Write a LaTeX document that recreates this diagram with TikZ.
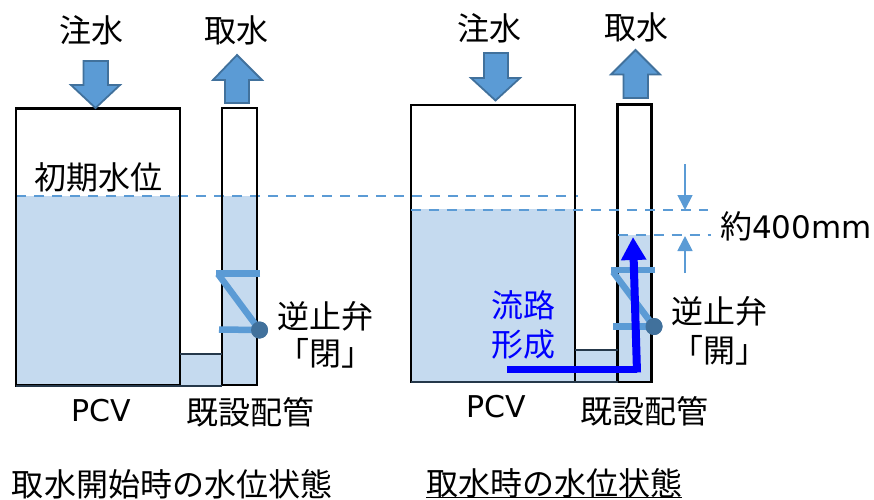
\documentclass[tikz,border=0pt]{standalone}
\usepackage{fontspec}
\setmainfont{DejaVu Sans}
\newfontfamily\jp{Noto Sans CJK JP}
\usetikzlibrary{arrows.meta}
\definecolor{water}{HTML}{C5DAEF}
\definecolor{accent}{HTML}{5B9BD5}
\definecolor{accentdark}{HTML}{41719C}
\definecolor{flow}{HTML}{0000FF}
\definecolor{wetedge}{HTML}{25384A}
\tikzset{
  x=1pt,y=-1pt,
  txt/.style={inner sep=0pt,font=\jp\fontsize{32}{36}\selectfont,text=black},
  lat/.style={inner sep=0pt,font=\fontsize{30}{34}\selectfont,text=black},
  vessel/.style={draw=black,line width=2.3pt,outer sep=0pt,inner sep=0pt,anchor=north west},
  wetline/.style={draw=wetedge,line width=2pt},
  waterfill/.style={fill=water,draw=none},
  level/.style={draw=accent,line width=2.2pt,dash pattern=on 10pt off 8pt},
  blockarrow/.style={fill=accent,draw=accentdark,line width=1.8pt,line join=miter},
  valvebar/.style={draw=accent,line width=6.5pt},
  hinge/.style={circle,fill=accentdark,draw=none,minimum size=17pt,inner sep=0pt},
  dimarrow/.style={draw=accent,line width=1.7pt,-{Triangle[length=15pt,width=15pt]}},
  flowline/.style={draw=flow,line width=7pt},
  flowhead/.style={draw=flow,line width=8pt,-{Triangle[length=23pt,width=24pt]}},
}
\begin{document}
\begin{tikzpicture}
\useasboundingbox (0,0) rectangle (874,499);
% ---------- left: water
\fill[waterfill] (16,196) rectangle (180,385);
\fill[waterfill] (180,353) rectangle (222,386);
\fill[waterfill] (222,196) rectangle (257,385);
\coordinate (l1) at (16,196); \coordinate (l2) at (578,196);
\draw[level] (l1) -- (l2);
% left vessels
\node[vessel,minimum width=164pt,minimum height=277pt] (pcvA) at (16,108.5) {};
\node[vessel,minimum width=35pt,minimum height=277pt] (pipeA) at (222,108) {};
\draw[wetline] (180,353.5) -- (222,353.5);
\draw[wetline] (16,385.5) -- (222,385.5);
% left block arrows
\draw[blockarrow] (83.5,61) -- (108,61) -- (108,85) -- (120,85) -- (95.5,108) -- (71,85) -- (83.5,85) -- cycle;
\draw[blockarrow] (237,55) -- (262,80) -- (249,80) -- (249,103) -- (225,103) -- (225,80) -- (213,80) -- cycle;
% left valve
\node[hinge] (hingeA) at (259.5,330) {};
\coordinate (a1) at (260,273.5); \coordinate (a2) at (216,273.5); \coordinate (a3) at (219,329.5);
\draw[valvebar] (a1) -- (a2);
\draw[valvebar] (218,274) -- (hingeA.center);
\draw[valvebar] (a3) -- (hingeA.center);
\node[hinge] at (hingeA) {};
% ---------- right: water
\fill[waterfill] (411,208.5) rectangle (575,382);
\fill[waterfill] (575,350) rectangle (617.5,382);
\fill[waterfill] (617.5,235) rectangle (651.5,382);
% right vessels
\node[vessel,minimum width=164pt,minimum height=277pt] (pcvB) at (411,105) {};
\node[vessel,minimum width=34pt,minimum height=277.5pt] (pipeB) at (617.5,104.5) {};
\draw[wetline] (575,350) -- (617.5,350);
\draw[wetline] (411,382) -- (617.5,382);
\coordinate (l3) at (411,210); \coordinate (l4) at (708,210);
\coordinate (l5) at (617.5,235); \coordinate (l6) at (711,235);
\draw[level] (l3) -- (l4);
\draw[level] (l5) -- (l6);
% right block arrows
\draw[blockarrow] (484,53) -- (508,53) -- (508,78) -- (520,78) -- (495.5,100.5) -- (471,78) -- (484,78) -- cycle;
\draw[blockarrow] (635.5,50) -- (660,74.5) -- (648,74.5) -- (648,98) -- (623.5,98) -- (623.5,74.5) -- (611,74.5) -- cycle;
% dimension arrows
\coordinate (d1) at (685,164); \coordinate (d2) at (685,210);
\coordinate (d3) at (685,273); \coordinate (d4) at (685,236);
\draw[dimarrow] (d1) -- (d2);
\draw[dimarrow] (d3) -- (d4);
% right valve
\node[hinge] (hingeB) at (654,326.5) {};
\coordinate (b1) at (655,270); \coordinate (b2) at (611,270); \coordinate (b3) at (613,326.5);
\draw[valvebar] (b1) -- (b2);
\draw[valvebar] (613,272) -- (hingeB.center);
\draw[valvebar] (b3) -- (hingeB.center);
\node[hinge] at (hingeB) {};
% flow path
\coordinate (f1) at (507,369); \coordinate (f2) at (636.5,369); \coordinate (f3) at (633,237);
\draw[flowline] (f1) -- (f2);
\draw[flowhead] (637,372.5) -- (f3);
% ---------- labels
\node[txt] (t1) at (91,30) {注水};
\node[txt] (t2) at (236,30) {取水};
\node[txt] (t3) at (98,177) {初期水位};
\node[txt] (t4) at (325,316) {逆止弁};
\node[txt] (t5) at (325,353) {「閉」};
\node[lat] (t6) at (101,411) {PCV};
\node[txt] (t7) at (250,412) {既設配管};
\node[txt] (t8) at (172,484) {取水開始時の水位状態};
\node[txt] (t9) at (489,28) {注水};
\node[txt] (t10) at (636,27) {取水};
\node[lat,anchor=west,font=\fontsize{31}{34}\selectfont] (t11) at (720,226) {{\jp\fontsize{32}{36}\selectfont 約}400mm};
\node[txt] (t12) at (719,311) {逆止弁};
\node[txt] (t13) at (719,350) {「開」};
\node[txt,text=flow] (t14) at (523,305) {流路};
\node[txt,text=flow] (t15) at (523,344) {形成};
\node[lat] (t16) at (496,407) {PCV};
\node[txt] (t17) at (644,411) {既設配管};
\node[txt] (t18) at (554,483) {取水時の水位状態};
\coordinate (u1) at (426,497.5); \coordinate (u2) at (682,497.5);
\draw[black,line width=1.4pt] (u1) -- (u2);
\end{tikzpicture}
\end{document}
